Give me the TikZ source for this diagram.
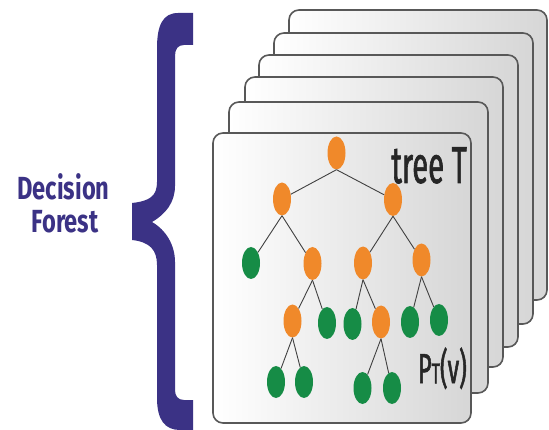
\documentclass[tikz,border=0pt]{standalone}
\usepackage{fontspec}
\newfontfamily\labelfont[FakeStretch=0.74]{Fira Sans}
\newfontfamily\treefont[FakeStretch=0.56, FakeBold=1.2]{Fira Sans}
\usetikzlibrary{shapes.geometric}

\definecolor{braceblue}{RGB}{59,50,133}
\definecolor{splitorange}{RGB}{240,137,42}
\definecolor{leafgreen}{RGB}{22,140,70}
\definecolor{cardline}{RGB}{88,88,88}

\tikzset{
    card/.style={draw=cardline, line width=1.6pt, rounded corners=10pt, left color=white, right color=black!16},
    split/.style={ellipse, fill=splitorange, minimum width=18pt, minimum height=33pt, inner sep=0pt},
    leaf/.style={ellipse, fill=leafgreen, minimum width=18pt, minimum height=32pt, inner sep=0pt},
    edge/.style={draw=black!75, line width=0.9pt},
}

\begin{document}
\begin{tikzpicture}[x=1pt,y=-1pt]
    \useasboundingbox (0,0) rectangle (549,430);

    % the brace
    \fill[braceblue] (193,13) -- (178,13) .. controls (163,13) and (157,25) .. (157,48)
        -- (157,182) .. controls (157,196) and (150,201) .. (132,203)
        -- (132,240) .. controls (150,242) and (157,250) .. (157,265)
        -- (157,398) .. controls (157,420) and (165,430) .. (180,430)
        -- (193,430) -- (193,400) -- (184,400) .. controls (178,400) and (175,396) .. (175,390)
        -- (175,262) .. controls (175,245) and (166,230) .. (152,222)
        .. controls (166,214) and (175,202) .. (175,186)
        -- (175,56) .. controls (175,49) and (178,45) .. (184,45) -- (193,45) -- cycle;

    \node[font=\labelfont\bfseries\fontsize{32}{33}\selectfont, text=braceblue, anchor=base] (decisionlabel) at (63.5,200) {Decision};
    \node[font=\labelfont\bfseries\fontsize{32}{33}\selectfont, text=braceblue, anchor=base] (forestlabel) at (65,233) {Forest};

    % stack of cards, back to front
    \foreach \x/\y/\X/\Y in {289/10/547/300, 274/33/533/324, 259/55/518/347, 245/77/503/367, 229/102/488/393, 213/133/471/423}
        \draw[card] (\x,\y) rectangle (\X,\Y);

    % tree T on the front card
    \node[split] (root) at (336.5,153) {};
    \node[split] (a) at (282,199) {};
    \node[split] (b) at (393,199.5) {};
    \node[leaf]  (c) at (251,263) {};
    \node[split] (d) at (312.5,263.5) {};
    \node[split] (e) at (363,263) {};
    \node[split] (f) at (421.5,260) {};
    \node[split] (g) at (292.5,321) {};
    \node[leaf]  (h) at (327,323) {};
    \node[leaf]  (i) at (352.5,324) {};
    \node[split] (j) at (381,322) {};
    \node[leaf]  (k) at (410,322) {};
    \node[leaf]  (l) at (439,320) {};
    \node[leaf]  (m) at (276,382) {};
    \node[leaf]  (n) at (304,382) {};
    \node[leaf]  (o) at (362.5,388) {};
    \node[leaf]  (p) at (392,388) {};

    \foreach \u/\v in {root/a, root/b, a/c, a/d, b/e, b/f, d/g, d/h, e/i, e/j, f/k, f/l, g/m, g/n, j/o, j/p}
        \draw[edge] (\u.south) -- (\v);

    \node[font=\treefont\fontsize{52}{52}\selectfont, text=black!85, anchor=base east, inner sep=0pt] (treelabel) at (467,183) {tree T};
    \node[font=\treefont\fontsize{42}{42}\selectfont, text=black!85, anchor=base east, inner sep=0pt] (ptlabel) at (467,383) {P\raisebox{-0.5pt}{\fontsize{29}{29}\selectfont T}(v)};
\end{tikzpicture}
\end{document}
